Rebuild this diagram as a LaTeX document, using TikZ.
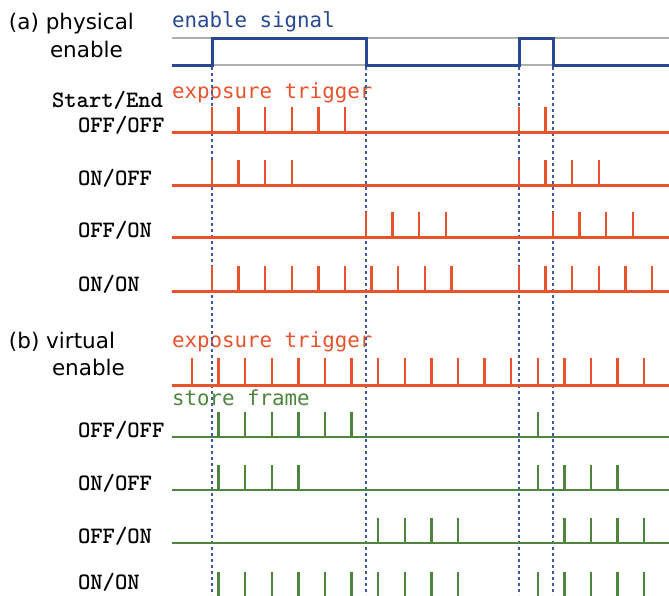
\documentclass[tikz,border=0pt]{standalone}
\usepackage{fontspec}
\setmainfont{DejaVu Sans}
\newfontfamily\dmono{DejaVu Sans Mono}
\definecolor{sigred}{RGB}{232,82,45}
\definecolor{sigblue}{RGB}{40,72,145}
\definecolor{sigmgreen}{RGB}{78,132,62}
\definecolor{dotblue}{RGB}{60,90,160}
\definecolor{guide}{RGB}{175,175,175}
\tikzset{
  txt/.style={anchor=base west, inner sep=0pt, outer sep=0pt},
  sanslbl/.style={txt, font=\fontsize{21.5}{24}\selectfont},
  rowlbl/.style={txt, font=\ttfamily\bfseries\fontsize{23.5}{26}\selectfont},
  sigtitle/.style={txt, font=\dmono\fontsize{20.8}{22}\selectfont},
  redbase/.style={draw=sigred, line width=3pt},
  redpulse/.style={draw=sigred, line width=2.5pt},
  grnbase/.style={draw=sigmgreen, line width=2.8pt},
  grnpulse/.style={draw=sigmgreen, line width=2.5pt},
  enablesig/.style={draw=sigblue, line width=3pt},
  guideline/.style={draw=guide, line width=1.1pt},
  edgeline/.style={draw=dotblue, line width=1.6pt, dash pattern=on 3pt off 3pt},
}
\begin{document}
\begin{tikzpicture}[x=1pt,y=-1pt]
\useasboundingbox (0,0) rectangle (669,595);
\clip (0,0) rectangle (669,595);
\def\p{26.6}
% ---------- labels ----------
\node[sanslbl] (lA1) at (9,29) {(a) physical};
\node[sanslbl] (lA2) at (50,57) {enable};
\node[sanslbl] (lB1) at (9,348) {(b) virtual};
\node[sanslbl] (lB2) at (52,375) {enable};
\node[sigtitle, text=sigblue] (tEn) at (172,27) {enable signal};
\node[sigtitle, text=sigred] (tExA) at (172,98) {exposure trigger};
\node[sigtitle, text=sigred] (tExB) at (172,347) {exposure trigger};
\node[sigtitle, text=sigmgreen] (tSt) at (172,405) {store frame};
\node[rowlbl] (lSE) at (52,107) {Start/End};
\node[rowlbl] (la1) at (78,132) {OFF/OFF};
\node[rowlbl] (la2) at (78,185) {ON/OFF};
\node[rowlbl] (la3) at (78,237) {OFF/ON};
\node[rowlbl] (la4) at (78,291) {ON/ON};
\node[rowlbl] (lb1) at (78,437) {OFF/OFF};
\node[rowlbl] (lb2) at (78,490) {ON/OFF};
\node[rowlbl] (lb3) at (78,543) {OFF/ON};
\node[rowlbl] (lb4) at (78,589) {ON/ON};
% ---------- edge guides ----------
\foreach \x in {212,366,519,553}
  \draw[edgeline] (\x,67) -- (\x,595);
% ---------- enable signal ----------
\draw[guideline] (172,38) -- (669,38);
\draw[guideline] (172,65) -- (669,65);
\draw[enablesig] (172,65) -- (212,65) -- (212,38) -- (366,38) -- (366,65)
  -- (519,65) -- (519,38) -- (553,38) -- (553,65) -- (669,65);
% ---------- (a) physical rows ----------
\foreach \y in {132,185,237,291}
  \draw[redbase] (172,\y) -- (669,\y);
\foreach \k in {0,...,5} \draw[redpulse] ({212+\p*\k},132) -- ++(0,-25);
\foreach \k in {0,1} \draw[redpulse] ({519+\p*\k},132) -- ++(0,-25);
\foreach \k in {0,...,3} \draw[redpulse] ({212+\p*\k},185) -- ++(0,-25);
\foreach \k in {0,...,3} \draw[redpulse] ({519+\p*\k},185) -- ++(0,-25);
\foreach \k in {0,...,3} \draw[redpulse] ({366+\p*\k},237) -- ++(0,-25);
\foreach \k in {0,...,3} \draw[redpulse] ({553+\p*\k},237) -- ++(0,-25);
\foreach \k in {0,...,9} \draw[redpulse] ({212+\p*\k},291) -- ++(0,-25);
\foreach \k in {0,...,5} \draw[redpulse] ({519+\p*\k},291) -- ++(0,-25);
% ---------- (b) virtual rows ----------
\draw[redbase] (172,385) -- (669,385);
\foreach \k in {0,...,17} \draw[redpulse] ({192+\p*\k},385) -- ++(0,-27);
\foreach \y in {437,490,543,597}
  \draw[grnbase] (172,\y) -- (669,\y);
\foreach \k in {0,...,5} \draw[grnpulse] ({218.6+\p*\k},437) -- ++(0,-25);
\draw[grnpulse] (537.8,437) -- ++(0,-25);
\foreach \k in {0,...,3} \draw[grnpulse] ({218.6+\p*\k},490) -- ++(0,-25);
\foreach \k in {0,...,3} \draw[grnpulse] ({537.8+\p*\k},490) -- ++(0,-25);
\foreach \k in {0,...,3} \draw[grnpulse] ({378.2+\p*\k},543) -- ++(0,-25);
\foreach \k in {0,...,3} \draw[grnpulse] ({564.4+\p*\k},543) -- ++(0,-25);
\foreach \k in {0,...,9} \draw[grnpulse] ({218.6+\p*\k},597) -- ++(0,-25);
\foreach \k in {0,...,4} \draw[grnpulse] ({537.8+\p*\k},597) -- ++(0,-25);
\end{tikzpicture}
\end{document}
